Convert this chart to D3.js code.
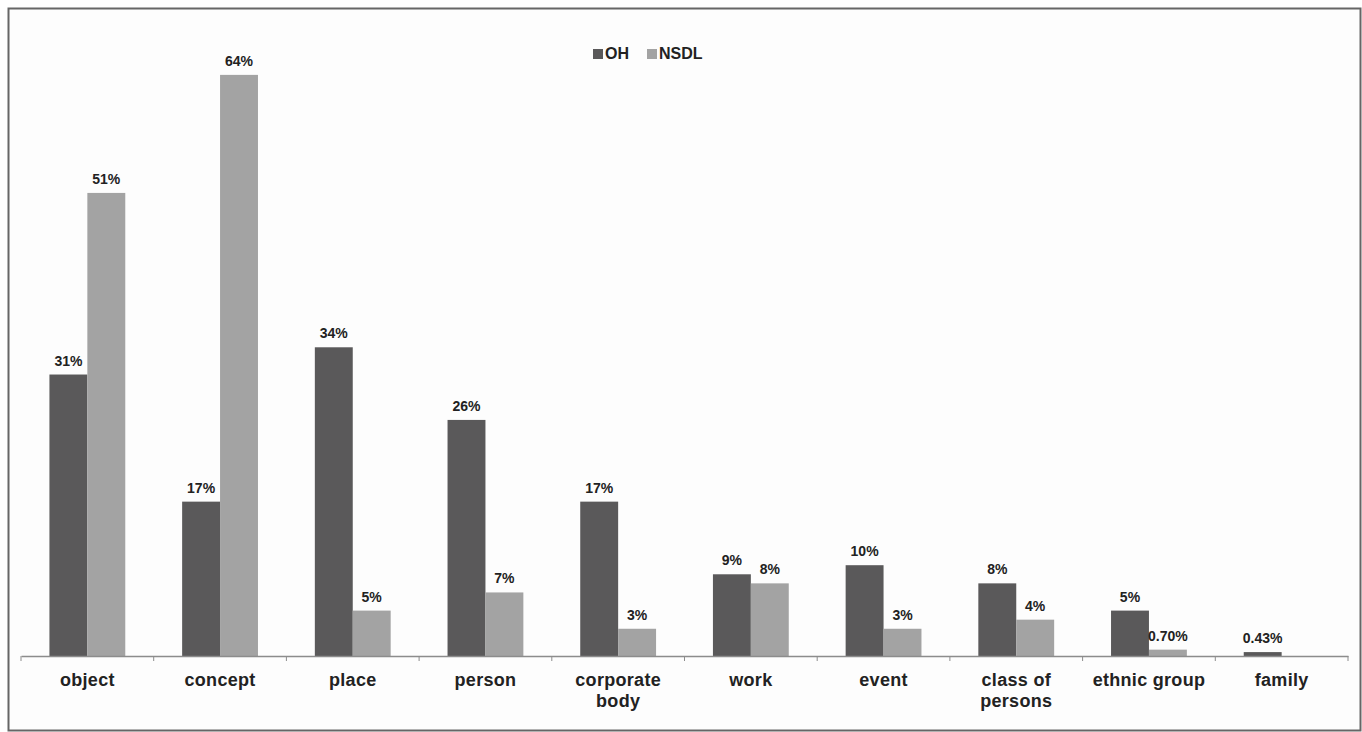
<!DOCTYPE html>
<html>
<head>
<meta charset="utf-8">
<script src="https://cdn.jsdelivr.net/npm/d3@7"></script>
<style>
  body { margin: 0; background: #fff; }
  text { font-family: "Liberation Sans", Arial, sans-serif; fill: #222; }
</style>
</head>
<body>
<script>
// chart data
const categories = ["object", "concept", "place", "person", "corporate body", "work", "event", "class of persons", "ethnic group", "family"];
const catLines = [["object"], ["concept"], ["place"], ["person"], ["corporate", "body"], ["work"], ["event"], ["class of", "persons"], ["ethnic group"], ["family"]];
const ohValues = [31, 17, 34, 26, 17, 9, 10, 8, 5, 0.43];
const nsdlValues = [51, 64, 5, 7, 3, 8, 3, 4, 0.70, null];
const ohLabels = ["31%", "17%", "34%", "26%", "17%", "9%", "10%", "8%", "5%", "0.43%"];
const nsdlLabels = ["51%", "64%", "5%", "7%", "3%", "8%", "3%", "4%", "0.70%", ""];
const seriesNames = ["OH", "NSDL"];
const colors = ["#5a595a", "#a3a3a3"];

const width = 1362, height = 732;

const svg = d3.select("body").append("svg")
    .attr("width", width)
    .attr("height", height);

// frame
svg.append("rect")
    .attr("x", 8.5).attr("y", 8.5)
    .attr("width", 1352).attr("height", 722)
    .attr("fill", "#fdfdfd")
    .attr("stroke", "#666")
    .attr("stroke-width", 2);

const x = d3.scaleBand().domain(categories).range([21, 1348]);
const y = d3.scaleLinear().domain([0, 70]).range([656, 20.4]);
const inner = d3.scaleBand().domain(seriesNames)
    .range([0, x.bandwidth()]).paddingOuter(0.75).paddingInner(0);

const rows = categories.map((c, i) => ({
  cat: c,
  vals: [
    {s: "OH", v: ohValues[i], label: ohLabels[i]},
    {s: "NSDL", v: nsdlValues[i], label: nsdlLabels[i]}
  ]
}));

const g = svg.selectAll("g.cat").data(rows).join("g")
    .attr("class", "cat")
    .attr("transform", d => `translate(${x(d.cat)},0)`);

const bars = g.selectAll("g.bar").data(d => d.vals.filter(v => v.v != null)).join("g")
    .attr("class", "bar");

bars.append("rect")
    .attr("x", d => inner(d.s))
    .attr("y", d => y(d.v))
    .attr("width", inner.bandwidth())
    .attr("height", d => y(0) - y(d.v))
    .attr("fill", d => colors[seriesNames.indexOf(d.s)]);

bars.append("text")
    .attr("x", d => inner(d.s) + inner.bandwidth() / 2)
    .attr("y", d => y(d.v) - 9)
    .attr("text-anchor", "middle")
    .style("font-size", "14px")
    .style("font-weight", "bold")
    .text(d => d.label);

// x axis
const axis = svg.append("g")
    .attr("transform", `translate(0,${y(0)})`)
    .call(d3.axisBottom(x).tickSize(0).tickFormat(""));
axis.select(".domain").attr("stroke", "#8c8c8c").attr("stroke-width", 1.5);

svg.append("g").selectAll("line")
    .data(categories.concat(["_end"]))
    .join("line")
    .attr("x1", (d, i) => i < categories.length ? x(d) : x.range()[1])
    .attr("x2", (d, i) => i < categories.length ? x(d) : x.range()[1])
    .attr("y1", y(0)).attr("y2", y(0) + 5)
    .attr("stroke", "#8c8c8c");

svg.append("g").selectAll("text")
    .data(categories)
    .join("text")
    .attr("x", d => x(d) + x.bandwidth() / 2)
    .attr("y", 686)
    .attr("text-anchor", "middle")
    .style("font-size", "18px")
    .style("font-weight", "bold")
    .style("letter-spacing", "0.3px")
    .selectAll("tspan")
    .data((d, i) => catLines[i])
    .join("tspan")
    .attr("x", function() { return this.parentNode.getAttribute("x"); })
    .attr("dy", (d, i) => i === 0 ? 0 : 21)
    .text(d => d);

// legend
const legend = svg.append("g");
const lx = [593, 647];
seriesNames.forEach((s, i) => {
  legend.append("rect")
      .attr("x", lx[i]).attr("y", 49)
      .attr("width", 10).attr("height", 10)
      .attr("fill", colors[i]);
  legend.append("text")
      .attr("x", lx[i] + 12).attr("y", 59)
      .style("font-size", "16px")
      .style("font-weight", "bold")
      .text(s);
});
</script>
</body>
</html>
